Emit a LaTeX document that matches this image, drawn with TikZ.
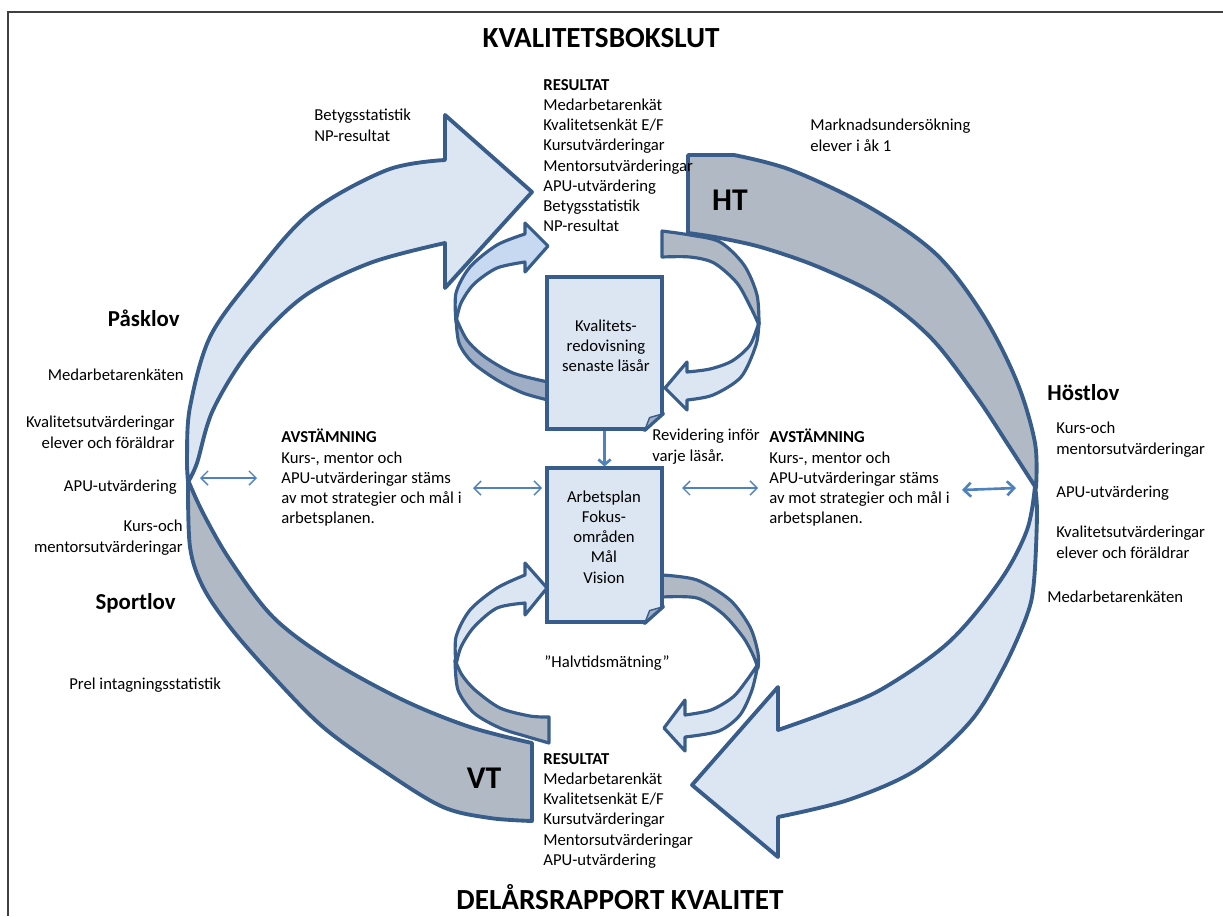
\documentclass[tikz,border=0pt]{standalone}
\usepackage{fontspec}
\setmainfont{Carlito}
\usetikzlibrary{arrows.meta,calc,positioning}

\definecolor{kant}{HTML}{385D8A}
\definecolor{ljusbla}{HTML}{DCE6F2}
\definecolor{mellanbla}{HTML}{C6D9F1}
\definecolor{gra}{HTML}{B0B9C4}
\definecolor{morkgra}{HTML}{9FAEC5}
\definecolor{pilbla}{HTML}{4F81BD}
\definecolor{ramfarg}{HTML}{404040}

\tikzstyle{ring} = [draw=kant, line width=2.2pt, line join=round]
\tikzstyle{slinga} = [draw=kant, line width=1.8pt, line join=round]
\tikzstyle{dokbox} = [draw=kant, fill=ljusbla, line width=1.8pt, minimum width=2.3cm, inner sep=0pt]
\tikzstyle{doktext} = [inner sep=0pt, align=center, font=\fontsize{9.5}{11.5}\selectfont]
\tikzstyle{brodtext} = [inner sep=0pt, align=left, font=\fontsize{9.5}{11.5}\selectfont]
\tikzstyle{lovtext} = [inner sep=0pt, font=\fontsize{13}{15}\selectfont\bfseries]
\tikzstyle{rubrik} = [inner sep=0pt, font=\fontsize{16.6}{19}\selectfont\bfseries]
\tikzstyle{termin} = [inner sep=0pt, font=\fontsize{18}{21}\selectfont\bfseries]
\tikzstyle{dubbelpil} = [draw=pilbla, line width=0.8pt, {Straight Barb[length=4pt,width=8pt]}-{Straight Barb[length=4pt,width=8pt]}]
\tikzstyle{nedpil} = [draw=pilbla, line width=1.5pt, -{Straight Barb[length=3pt,width=7pt]}]

\begin{document}
\begin{tikzpicture}[x=0.02cm, y=-0.02cm]
    \useasboundingbox (0,0) rectangle (1223,916);

      % Frame
      \draw[ramfarg, line width=1pt] (8,916) -- (8,12) -- (1223,12);

      % Big ring, left half
      \filldraw[ring, fill=ljusbla] (188,482)
        -- plot[smooth, tension=0.55] coordinates {(188,482) (187,457) (190,407) (210,337) (253,277) (310,213) (387,170) (445,160)}
        -- (445,115) -- (532,192) -- (445,288) -- (445,243)
        -- plot[smooth, tension=0.55] coordinates {(445,243) (370,263) (303,297) (250,350) (213,410) (197,463) (188,482)}
        -- cycle;
      \filldraw[ring, fill=gra] (188,480)
        -- plot[smooth, tension=0.55] coordinates {(188,480) (190,547) (203,587) (230,627) (270,673) (323,727) (387,773) (443,807) (490,818) (532,821)}
        -- (532,743)
        -- plot[smooth, tension=0.55] coordinates {(532,743) (470,727) (403,700) (330,660) (273,617) (230,560) (203,513) (188,480)}
        -- cycle;

      % Big ring, right half
      \filldraw[ring, fill=gra] (688,233) -- (688,155) -- (734,155)
        -- plot[smooth, tension=0.55] coordinates {(734,155) (791,170) (869,207) (936,254) (983,315) (1017,382) (1035,443) (1036,488)}
        -- plot[smooth, tension=0.55] coordinates {(1036,488) (1007,443) (976,396) (932,339) (882,298) (821,268) (764,248) (720,238) (688,233)}
        -- cycle;
      \filldraw[ring, fill=ljusbla] (1035,486)
        -- plot[smooth, tension=0.55] coordinates {(1035,486) (1037,514) (1034,581) (1027,615) (1003,669) (970,722) (916,770) (848,800) (778,817)}
        -- (778,857) -- (692,785) -- (778,687) -- (778,730)
        -- plot[smooth, tension=0.55] coordinates {(778,730) (828,712) (882,689) (949,642) (1000,581) (1027,530) (1035,486)}
        -- cycle;

      % Small loop round the report
      \filldraw[slinga, fill=morkgra] (456,318)
        -- plot[smooth] coordinates {(456,318) (459,343) (472,362) (497,380) (523,393) (548,400)}
        -- (548,382)
        -- plot[smooth] coordinates {(548,382) (513,373) (485,357) (467,340) (456,318)}
        -- cycle;
      \filldraw[slinga, fill=mellanbla] (456,322)
        -- plot[smooth] coordinates {(456,322) (456,293) (470,267) (497,245) (525,234)}
        -- (525,223) -- (548,246) -- (525,272) -- (525,262)
        -- plot[smooth] coordinates {(525,262) (497,268) (474,284) (461,303) (456,322)}
        -- cycle;
      \filldraw[slinga, fill=gra] (662,257) -- (662,231)
        -- plot[smooth] coordinates {(662,231) (690,235) (720,242) (744,265) (757,295) (759,325)}
        -- plot[smooth] coordinates {(759,325) (751,308) (737,283) (714,263) (690,257) (662,257)}
        -- cycle;
      \filldraw[slinga, fill=ljusbla] (759,322)
        -- plot[smooth] coordinates {(759,322) (756,345) (741,377) (713,395) (687,400)}
        -- (687,410) -- (665,388) -- (687,362) -- (687,372)
        -- plot[smooth] coordinates {(687,372) (710,369) (732,361) (750,345) (759,322)}
        -- cycle;

      % Small loop round the plan
      \filldraw[slinga, fill=gra] (455,660)
        -- plot[smooth] coordinates {(455,660) (458,690) (474,713) (500,728) (525,736) (549,743)}
        -- (549,717)
        -- plot[smooth] coordinates {(549,717) (530,716) (500,708) (475,690) (462,675) (455,660)}
        -- cycle;
      \filldraw[slinga, fill=ljusbla] (456,665)
        -- plot[smooth] coordinates {(456,665) (456,637) (470,610) (497,588) (525,575)}
        -- (525,563) -- (547,588) -- (525,615) -- (525,603)
        -- plot[smooth] coordinates {(525,603) (497,608) (474,627) (461,647) (456,665)}
        -- cycle;
      \filldraw[slinga, fill=gra] (662,597) -- (662,575)
        -- plot[smooth] coordinates {(662,575) (697,580) (730,600) (750,627) (758,653) (758,668)}
        -- plot[smooth] coordinates {(758,668) (753,655) (743,637) (723,614) (697,598) (662,597)}
        -- cycle;
      \filldraw[slinga, fill=ljusbla] (758,664)
        -- plot[smooth] coordinates {(758,664) (752,690) (740,715) (719,731) (685,737)}
        -- (685,751) -- (664,728) -- (685,700) -- (685,715)
        -- plot[smooth] coordinates {(685,715) (711,710) (733,697) (747,680) (758,664)}
        -- cycle;

      % Documents
      \node[dokbox, minimum height=3.04cm] (redov) at (604.5,353) {};
      \node[dokbox, minimum height=3.08cm] (plan) at (604.5,545) {};
      \foreach \dok in {redov, plan} {
        \fill[white] ($(\dok.south east)+(2,-19)$) -- ($(\dok.south east)+(2,2)$) -- ($(\dok.south east)+(-21,2)$) -- cycle;
        \filldraw[kant, fill=morkgra, line width=0.8pt, line join=round] ($(\dok.south east)+(0,-17)$) -- ($(\dok.south east)+(-14,-13)$) -- ($(\dok.south east)+(-19,0)$) -- cycle;
        \draw[kant, line width=1.8pt, line cap=round] ($(\dok.south east)+(0,-17)$) -- ($(\dok.south east)+(-19,0)$);
      }
      \node[doktext] (redovtext) at (606,346) {Kvalitets-\\redovisning\\senaste läsår};
      \node[doktext] (plantext) at (604,537) {Arbetsplan\\Fokus-\\områden\\Mål\\Vision};
      \draw[nedpil] (redov.south) -- (plan.north);

      % Double arrows
      \coordinate (vA) at (200,478);
      \coordinate (vB) at (257,478);
      \coordinate (mA) at (473,488);
      \coordinate (mB) at (542,488);
      \coordinate (hA) at (682,488);
      \coordinate (hB) at (758,488);
      \coordinate (yA) at (962,490);
      \coordinate (yB) at (1016,488);
      \draw[dubbelpil] (vA) -- (vB);
      \draw[dubbelpil] (mA) -- (mB);
      \draw[dubbelpil] (hA) -- (hB);
      \draw[dubbelpil, line width=1.5pt] (yA) -- (yB);

      % Headings
      \node[rubrik, anchor=base] (bokslut) at (601,47) {KVALITETSBOKSLUT};
      \node[rubrik, anchor=base] (delars) at (620,909) {DELÅRSRAPPORT KVALITET};
      \node[termin] (ht) at (730,200) {HT};
      \node[termin] (vt) at (484,778) {VT};

      % Texts in the middle
      \node[brodtext, anchor=north west] (resupp) at (543,79) {\textbf{RESULTAT}\\Medarbetarenkät\\Kvalitetsenkät E/F\\Kursutvärderingar\\Mentorsutvärderingar\\APU-utvärdering\\Betygsstatistik\\NP-resultat};
      \node[brodtext, anchor=north west] (resned) at (543,753) {\textbf{RESULTAT}\\Medarbetarenkät\\Kvalitetsenkät E/F\\Kursutvärderingar\\Mentorsutvärderingar\\APU-utvärdering};
      \node[brodtext, anchor=north west] (betyg) at (314,109) {Betygsstatistik\\NP-resultat};
      \node[brodtext, anchor=north west] (marknad) at (810,119) {Marknadsundersökning\\elever i åk 1};
      \node[brodtext, anchor=north west] (avstv) at (281,429) {\textbf{AVSTÄMNING}\\Kurs-, mentor och\\APU-utvärderingar stäms\\av mot strategier och mål i\\arbetsplanen.};
      \node[brodtext, anchor=north west] (avsth) at (769,429) {\textbf{AVSTÄMNING}\\Kurs-, mentor och\\APU-utvärderingar stäms\\av mot strategier och mål i\\arbetsplanen.};
      \node[brodtext, anchor=north west] (revid) at (652,429) {Revidering inför\\varje läsår.};
      \node[brodtext] (halvtid) at (607,663) {”Halvtidsmätning”};

      % Left side
      \node[lovtext, anchor=east] (pasklov) at (180,318) {Påsklov};
      \node[brodtext, anchor=north east] (medarbv) at (184,369) {Medarbetarenkäten};
      \node[brodtext, anchor=north east, align=right] (kvalv) at (175,416) {Kvalitetsutvärderingar\\elever och föräldrar};
      \node[brodtext, anchor=north east] (apuv) at (177,480) {APU-utvärdering};
      \node[brodtext, anchor=north east, align=right] (kursv) at (183,520) {Kurs-och\\mentorsutvärderingar};
      \node[lovtext, anchor=east] (sportlov) at (176,603) {Sportlov};
      \node[brodtext, anchor=north west] (prel) at (69,678) {Prel intagningsstatistik};

      % Right side
      \node[lovtext, anchor=west] (hostlov) at (1047,393) {Höstlov};
      \node[brodtext, anchor=north west] (kursh) at (1056,422) {Kurs-och\\mentorsutvärderingar};
      \node[brodtext, anchor=north west] (apuh) at (1056,486) {APU-utvärdering};
      \node[brodtext, anchor=north west] (kvalh) at (1056,526) {Kvalitetsutvärderingar\\elever och föräldrar};
      \node[brodtext, anchor=north west] (medarbh) at (1047,591) {Medarbetarenkäten};

  \end{tikzpicture}
\end{document}
